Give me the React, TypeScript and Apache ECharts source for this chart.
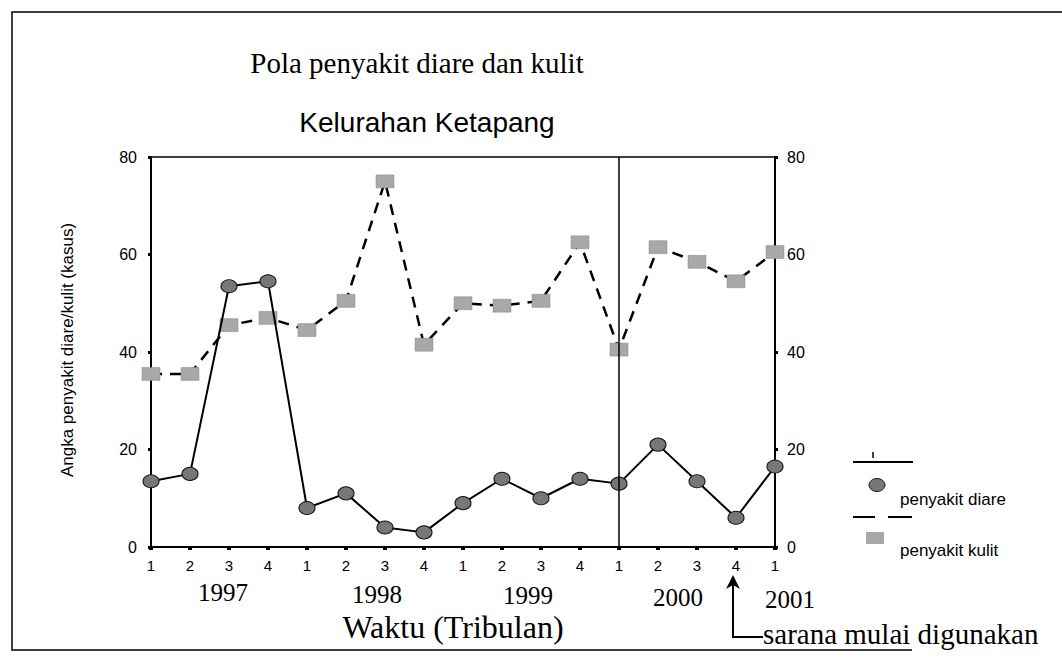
import React, { useEffect, useRef } from "react";
import * as echarts from "echarts";

const categories = [
  "1997-1", "1997-2", "1997-3", "1997-4",
  "1998-1", "1998-2", "1998-3", "1998-4",
  "1999-1", "1999-2", "1999-3", "1999-4",
  "2000-1", "2000-2", "2000-3", "2000-4",
  "2001-1",
];
const quarterLabels = ["1", "2", "3", "4", "1", "2", "3", "4", "1", "2", "3", "4", "1", "2", "3", "4", "1"];
const diare = [13.5, 15, 53.5, 54.5, 8, 11, 4, 3, 9, 14, 10, 14, 13, 21, 13.5, 6, 16.5];
const kulit = [35.5, 35.5, 45.5, 47, 44.5, 50.5, 75, 41.5, 50, 49.5, 50.5, 62.5, 40.5, 61.5, 58.5, 54.5, 60.5];
const yearLabels = ["1997", "1998", "1999", "2000", "2001"];
const yTicks = [0, 20, 40, 60, 80];
const markerCategory = "2000-1";

const SERIF = "'Liberation Serif', 'Times New Roman', serif";
const SANS = "'Liberation Sans', Arial, sans-serif";

export default function App() {
  const ref = useRef<HTMLDivElement>(null);
  useEffect(() => {
    document.body.style.margin = "0";
    const chart = echarts.init(ref.current!, null, { renderer: "svg" });
    const yearPos = [
      [223, 592], [377, 594], [528, 595], [678, 597], [790, 599],
    ];
    const axisCommon = {
      type: "value",
      min: yTicks[0],
      max: yTicks[yTicks.length - 1],
      interval: 20,
      axisLine: { show: true, lineStyle: { color: "#000", width: 2 } },
      axisTick: { show: true, length: 3, lineStyle: { color: "#000", width: 3 } },
      splitLine: { show: false },
    };
    chart.setOption({
      animation: false,
      backgroundColor: "#fff",
      grid: {
        left: 151, right: 287, top: 157, bottom: 112,
        show: true, borderColor: "#000", borderWidth: 1.5, backgroundColor: "transparent",
      },
      xAxis: {
        type: "category",
        data: categories,
        boundaryGap: false,
        axisLine: { lineStyle: { color: "#000", width: 2 } },
        axisTick: { show: true, length: 3, lineStyle: { color: "#000", width: 4 } },
        axisLabel: {
          color: "#000", fontFamily: SANS, fontSize: 15, margin: 11,
          interval: 0,
          formatter: (_v: string, i: number) => quarterLabels[i],
        },
        splitLine: { show: false },
      },
      yAxis: [
        {
          ...axisCommon,
          position: "left",
          axisLabel: { color: "#000", fontFamily: SANS, fontSize: 16, margin: 14 },
        },
        {
          ...axisCommon,
          position: "right",
          axisLabel: { color: "#000", fontFamily: SANS, fontSize: 16, margin: 12 },
        },
      ],
      series: [
        {
          name: "penyakit diare",
          type: "line",
          data: diare,
          symbol: "circle",
          symbolSize: [16, 13],
          itemStyle: { color: "#777", borderColor: "#111", borderWidth: 1 },
          lineStyle: { color: "#000", width: 2 },
          z: 3,
          markLine: {
            silent: true,
            symbol: "none",
            label: { show: false },
            lineStyle: { color: "#000", width: 1.5, type: "solid" },
            data: [{ xAxis: markerCategory }],
          },
        },
        {
          name: "penyakit kulit",
          type: "line",
          data: kulit,
          symbol: "rect",
          symbolSize: [18, 13],
          itemStyle: { color: "#a8a8a8", borderColor: "#888", borderWidth: 0.5 },
          lineStyle: { color: "#000", width: 2.5, type: [11, 8] },
          z: 2,
        },
      ],
      graphic: [
        {
          type: "polyline",
          shape: { points: [[1062, 12], [12, 12], [12, 650], [912, 650]] },
          style: { stroke: "#000", lineWidth: 1.5, fill: "none" },
          silent: true,
        },
        {
          type: "text", x: 417, y: 63,
          style: {
            text: "Pola penyakit diare dan kulit", font: `29px ${SERIF}`,
            fill: "#000", textAlign: "center", textVerticalAlign: "middle",
          },
        },
        {
          type: "text", x: 427, y: 122,
          style: {
            text: "Kelurahan Ketapang", font: `28px ${SANS}`,
            fill: "#000", textAlign: "center", textVerticalAlign: "middle",
          },
        },
        {
          type: "text", x: 67, y: 350, rotation: Math.PI / 2,
          style: {
            text: "Angka penyakit diare/kulit (kasus)", font: `17px ${SANS}`,
            fill: "#000", textAlign: "center", textVerticalAlign: "middle",
          },
        },
        ...yearLabels.map((t, i) => ({
          type: "text", x: yearPos[i][0], y: yearPos[i][1],
          style: {
            text: t, font: `25px ${SERIF}`, fill: "#000",
            textAlign: "center", textVerticalAlign: "middle",
          },
        })),
        {
          type: "text", x: 453, y: 627,
          style: {
            text: "Waktu (Tribulan)", font: `32px ${SERIF}`,
            fill: "#000", textAlign: "center", textVerticalAlign: "middle",
          },
        },
        {
          type: "polyline",
          shape: { points: [[733, 584], [733, 637], [763, 637]] },
          style: { stroke: "#000", lineWidth: 2, fill: "none" },
        },
        {
          type: "polygon",
          shape: { points: [[733, 575], [726, 589], [733, 585], [740, 589]] },
          style: { fill: "#000" },
        },
        {
          type: "text", x: 763, y: 634,
          style: {
            text: "sarana mulai digunakan", font: `29px ${SERIF}`,
            fill: "#000", textAlign: "left", textVerticalAlign: "middle",
          },
        },
        {
          type: "line", shape: { x1: 853, y1: 462, x2: 913, y2: 462 },
          style: { stroke: "#000", lineWidth: 2 },
        },
        {
          type: "line", shape: { x1: 873, y1: 452, x2: 873, y2: 458 },
          style: { stroke: "#000", lineWidth: 1.5 },
        },
        {
          type: "ellipse", shape: { cx: 877, cy: 485, rx: 8, ry: 6.5 },
          style: { fill: "#777", stroke: "#111", lineWidth: 1 },
        },
        {
          type: "text", x: 900, y: 499,
          style: {
            text: "penyakit diare", font: `17px ${SANS}`, fill: "#000",
            textAlign: "left", textVerticalAlign: "middle",
          },
        },
        {
          type: "line", shape: { x1: 853, y1: 517, x2: 875, y2: 517 },
          style: { stroke: "#000", lineWidth: 2 },
        },
        {
          type: "line", shape: { x1: 888, y1: 517, x2: 912, y2: 517 },
          style: { stroke: "#000", lineWidth: 2 },
        },
        {
          type: "rect", shape: { x: 866, y: 532, width: 18, height: 12 },
          style: { fill: "#a8a8a8" },
        },
        {
          type: "text", x: 900, y: 550,
          style: {
            text: "penyakit kulit", font: `17px ${SANS}`, fill: "#000",
            textAlign: "left", textVerticalAlign: "middle",
          },
        },
      ],
    });
    return () => chart.dispose();
  }, []);
  return <div ref={ref} style={{ width: 1062, height: 659 }} />;
}
